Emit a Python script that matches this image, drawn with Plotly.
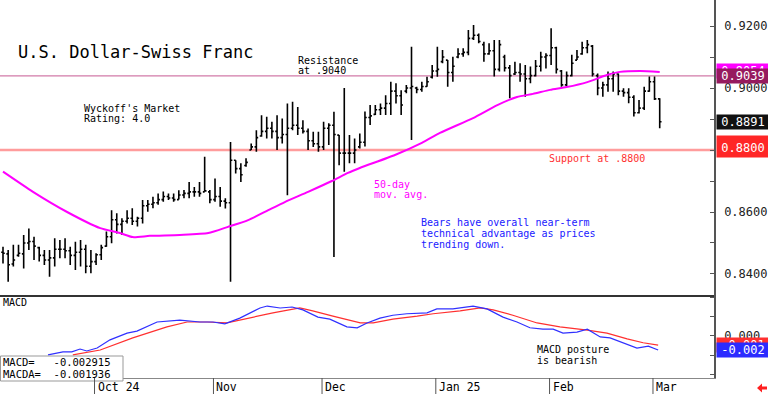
import plotly.graph_objects as go

# ---------------- data ----------------
month_labels = ["Oct 24", "Nov", "Dec", "Jan 25", "Feb", "Mar"]
month_start_bar = [18, 41, 62, 84, 106, 126]

bar_high = [.8488, .8477, .8494, .8494, .8526, .8547, .8520, .8488, .8477, .8477,
            .8515, .8510, .8515, .8488, .8504, .8510, .8494, .8477, .8467, .8494,
            .8537, .8606, .8596, .8580, .8606, .8612, .8585, .8639, .8639, .8649,
            .8660, .8666, .8660, .8660, .8670, .8671, .8697, .8681, .8697, .8778,
            .8671, .8708, .8681, .8644, .8826, .8767, .8757, .8773, .8821, .8864,
            .8912, .8907, .8891, .8912, .8902, .8950, .8956, .8939, .8896, .8869,
            .8859, .8859, .8891, .8886, .8923, .8848, .9000, .8848, .8837, .8853,
            .8924, .8945, .8945, .8950, .8977, .9020, .9015, .8993, .9010, .9133,
            .9004, .9020, .9036, .9074, .9133, .9123, .9090, .9101, .9128, .9128,
            .9187, .9203, .9176, .9149, .9144, .9155, .9155, .9107, .9074, .9085,
            .9080, .9074, .9069, .9090, .9117, .9112, .9193, .9133, .9058, .9053,
            .9107, .9123, .9149, .9155, .9139, .9047, .9020, .9053, .9053, .9047,
            .8999, .8999, .8977, .8961, .9004, .9037, .9037, .8967]
bar_low = [.8434, .8375, .8424, .8456, .8418, .8477, .8445, .8440, .8429, .8391,
           .8424, .8451, .8451, .8429, .8413, .8424, .8402, .8402, .8429, .8445,
           .8488, .8499, .8531, .8526, .8563, .8558, .8553, .8563, .8601, .8612,
           .8623, .8633, .8639, .8633, .8640, .8644, .8644, .8649, .8649, .8665,
           .8628, .8633, .8617, .8611, .8375, .8724, .8697, .8746, .8800, .8794,
           .8843, .8837, .8837, .8800, .8821, .8654, .8864, .8848, .8853, .8800,
           .8810, .8794, .8800, .8816, .8455, .8751, .8730, .8757, .8757, .8805,
           .8811, .8881, .8913, .8913, .8913, .8913, .8950, .8913, .8983, .8832,
           .8983, .8988, .9004, .9031, .9036, .9080, .9004, .9020, .9096, .9101,
           .9106, .9155, .9144, .9085, .9107, .9037, .9053, .9053, .8967, .9042,
           .9020, .8972, .9015, .9037, .9053, .9063, .9074, .9047, .9004, .9004,
           .9037, .9090, .9107, .9112, .9037, .8977, .8972, .8988, .8988, .8977,
           .8972, .8951, .8908, .8918, .8929, .8988, .8961, .8870]
bar_open = [.8470, .8465, .8432, .8460, .8465, .8500, .8505, .8485, .8460, .8445,
            .8452, .8480, .8480, .8475, .8460, .8470, .8480, .8425, .8440, .8462,
            .8490, .8520, .8575, .8560, .8570, .8580, .8570, .8580, .8620, .8625,
            .8630, .8640, .8650, .8645, .8640, .8655, .8660, .8665, .8665, .8665,
            .8665, .8640, .8650, .8635, .8630, .8767, .8740, .8750, .8800, .8810,
            .8845, .8860, .8870, .8860, .8840, .8850, .8870, .8880, .8870, .8860,
            .8830, .8820, .8810, .8870, .8880, .8848, .8790, .8790, .8790, .8810,
            .8825, .8905, .8915, .8930, .8935, .8950, .8990, .8975, .8990, .9000,
            .9000, .8995, .9005, .9035, .9055, .9085, .9090, .9050, .9100, .9110,
            .9115, .9160, .9170, .9140, .9110, .9120, .9060, .9100, .9065, .9045,
            .9050, .9045, .9030, .9040, .9070, .9100, .9105, .9130, .9055, .9010,
            .9040, .9090, .9110, .9130, .9135, .9040, .9000, .9010, .9030, .9045,
            .8990, .8985, .8970, .8920, .8935, .8990, .9020, .8965]
bar_close = [.8467, .8430, .8445, .8467, .8500, .8505, .8490, .8460, .8445, .8452,
             .8480, .8480, .8475, .8460, .8470, .8480, .8425, .8440, .8462, .8485,
             .8520, .8575, .8560, .8570, .8580, .8570, .8580, .8620, .8625, .8630,
             .8640, .8650, .8645, .8640, .8655, .8660, .8665, .8665, .8660, .8668,
             .8640, .8650, .8635, .8630, .8767, .8740, .8720, .8760, .8810, .8840,
             .8860, .8870, .8860, .8840, .8850, .8870, .8880, .8870, .8860, .8830,
             .8820, .8810, .8870, .8880, .8850, .8790, .8790, .8790, .8800, .8825,
             .8905, .8910, .8930, .8935, .8950, .8990, .8975, .8945, .9000, .9005,
             .8995, .9005, .9020, .9055, .9060, .9100, .9050, .9070, .9110, .9115,
             .9160, .9170, .9150, .9110, .9120, .9060, .9140, .9065, .9040, .9050,
             .9045, .9030, .9040, .9070, .9100, .9105, .9130, .9060, .9010, .9040,
             .9080, .9100, .9130, .9140, .9045, .9000, .9010, .9030, .9045, .8990,
             .8985, .8970, .8920, .8935, .8990, .9020, .8965, .8891]

ma_bar = [0, 5.8, 12.4, 18.8, 22.6, 25.1, 28.4, 34.2, 39.7, 43.5, 47.4, 51.3, 54.5,
          59, 63.6, 66.7, 69, 75.8, 81, 84.5, 90.9, 95.6, 99.4, 102.5, 105.8,
          109, 113, 116.8, 119.3, 123.2, 127]
ma_value = [.8730, .8665, .8600, .8548, .8532, .8519, .8523, .8526, .8532, .8552,
            .8574, .8606, .8632, .8665, .8700, .8726, .8742, .8784, .8823, .8855,
            .8903, .8945, .8971, .8981, .8994, .9003, .9019, .9042, .9052,
            .9055, .9052]

macd_bar = [8.7, 11.6, 13.3, 14.9, 16.2, 18.2, 20.7, 24.0, 25.9, 29.8, 34.2, 38.1,
            40.6, 42.9, 45.8, 49.7, 51.1, 53.6, 55.9, 58.0, 60.9, 63.2, 66.5, 68.5,
            70.4, 72.9, 75.4, 78.1, 82.0, 83.9, 87.0, 90.9, 93.6, 96.7, 99.4, 101.9,
            104.4, 106.4, 108.3, 111.0, 113.0, 115.5, 117.4, 119.9, 122.6, 124.8, 126.7]
macd_value = [-.0039, -.0033, -.0033, -.0027, -.0031, -.0025, -.0008, .0006, .0010,
              .0029, .0033, .0029, .0029, .0025, .0037, .0058, .0062, .0058, .0060,
              .0054, .0039, .0035, .0019, .0017, .0027, .0037, .0043, .0046, .0048,
              .0056, .0056, .0062, .0056, .0039, .0029, .0017, .0014, .0014, .0006,
              .0008, .0014, -.0002, -.0004, -.0014, -.0025, -.0021, -.0029]
macda_bar = [13.5, 18.8, 25.1, 31.7, 35.6, 39.5, 43.3, 49.7, 52.2, 57.4, 59.9, 63.8,
             69.1, 71.6, 75.4, 80.1, 83.2, 88.4, 92.3, 94.8, 98.6, 103.3, 107.7,
             113.0, 116.8, 120.7, 123.8, 126.7]
macda_value = [-.0039, -.0029, -.0004, .0019, .0029, .0029, .0027, .0043, .0048,
               .0058, .0052, .0041, .0027, .0027, .0035, .0041, .0046, .0052, .0058,
               .0054, .0043, .0027, .0019, .0012, .0006, -.0006, -.0014, -.0019]

resistance_level = 0.9039
support_level = 0.8800
last_ma_label = "0.9054"
last_res_label = "0.9039"
last_close_label = "0.8891"
support_label = "0.8800"
macd_last = "-0.002915"
macda_last = "-0.001936"

# ---------------- layout helpers ----------------
PW, PH = 714.0, 378.0
MONO = "DejaVu Sans Mono"


def fx(px):
    return px / PW


def fy(py):
    return (PH - py) / PH


bars_x = list(range(len(bar_high)))

fig = go.Figure()
fig.add_trace(go.Ohlc(
    x=bars_x, open=bar_open, high=bar_high, low=bar_low, close=bar_close,
    increasing=dict(line=dict(color="black", width=1.6)),
    decreasing=dict(line=dict(color="black", width=1.6)),
    tickwidth=0.35, showlegend=False, xaxis="x", yaxis="y"))
fig.add_trace(go.Scatter(
    x=ma_bar, y=ma_value, mode="lines", line=dict(color="#FF00FF", width=2, shape="spline", smoothing=0.6),
    showlegend=False, xaxis="x", yaxis="y"))
fig.add_trace(go.Scatter(
    x=macda_bar, y=macda_value, mode="lines", line=dict(color="#FF3030", width=1.2),
    showlegend=False, xaxis="x", yaxis="y2"))
fig.add_trace(go.Scatter(
    x=macd_bar, y=macd_value, mode="lines", line=dict(color="#3030FF", width=1.2),
    showlegend=False, xaxis="x", yaxis="y2"))

split = fy(296)
shapes = [
    dict(type="line", xref="paper", yref="y", x0=0, x1=1, y0=resistance_level, y1=resistance_level,
         line=dict(color="#D27AA8", width=1.3), layer="below"),
    dict(type="line", xref="paper", yref="y", x0=0, x1=1, y0=support_level, y1=support_level,
         line=dict(color="#FF9C9C", width=2.5), layer="below"),
    dict(type="line", xref="paper", yref="paper", x0=0, x1=1, y0=split, y1=split,
         line=dict(color="#333333", width=2)),
    # MACD value box at lower left
    dict(type="rect", xref="paper", yref="paper", x0=fx(0.5), x1=fx(123), y0=fy(381), y1=fy(356),
         fillcolor="white", line=dict(color="#999999", width=1), layer="above"),
]
annotations = []
for lab, b in zip(month_labels, month_start_bar):
    shapes.append(dict(type="line", xref="x", yref="paper", x0=b - 0.3, x1=b - 0.3,
                       y0=fy(394), y1=0, line=dict(color="#555555", width=1)))
    annotations.append(dict(x=b - 0.3, xref="x", y=fy(386.5), yref="paper", text=lab,
                            showarrow=False, xanchor="left", yanchor="middle", xshift=1,
                            font=dict(family=MONO, size=11.5, color="black")))

# red arrow at bottom right
ax0, ay = 757, 388
arrow_path = ("M {} {} L {} {} L {} {} L {} {} L {} {} L {} {} L {} {} Z").format(
    fx(ax0), fy(ay), fx(ax0 + 5), fy(ay - 4.5), fx(ax0 + 5), fy(ay - 1.5),
    fx(ax0 + 10), fy(ay - 1.5), fx(ax0 + 10), fy(ay + 1.5), fx(ax0 + 5), fy(ay + 1.5),
    fx(ax0 + 5), fy(ay + 4.5))
shapes.append(dict(type="path", xref="paper", yref="paper", path=arrow_path,
                   fillcolor="#FF2020", line=dict(width=0)))


def txt(text, x, y, color="black", size=10):
    annotations.append(dict(x=fx(x), y=fy(y), xref="paper", yref="paper", text=text,
                            showarrow=False, xanchor="left", yanchor="middle",
                            font=dict(family=MONO, size=size, color=color)))


txt("U.S. Dollar-Swiss Franc", 16, 52, size=17)
txt("Resistance", 296, 60)
txt("at .9040", 296, 71)
txt("Wyckoff's Market", 82, 108)
txt("Rating: 4.0", 82, 119)
txt("50-day", 372, 184, color="#FF00FF")
txt("mov. avg.", 372, 195, color="#FF00FF")
txt("Bears have overall near-term", 419, 222, color="#2020FF")
txt("technical advantage as prices", 419, 233, color="#2020FF")
txt("trending down.", 419, 244, color="#2020FF")
txt("Support at .8800", 547, 158, color="#FF3030")
txt("MACD posture", 535, 349)
txt("is bearish", 535, 360)
txt("MACD", 1, 302)
txt("MACD=\u00a0\u00a0\u00a0" + macd_last, 1, 362, size=10.5)
txt("MACDA=\u00a0\u00a0" + macda_last, 1, 373.5, size=10.5)


def value_box(text, yval, yref, bg, height=10, valign="middle"):
    annotations.append(dict(
        x=1, xref="paper", xshift=2, xanchor="left", y=yval, yref=yref, yanchor="middle",
        text=text, showarrow=False, bgcolor=bg, width=48, height=height, borderpad=2,
        align="center", valign=valign, font=dict(family=MONO, size=12, color="white")))


value_box(last_ma_label, float(last_ma_label), "y", "#FF00FF")
value_box(last_res_label, 0.9039, "y", "#961A5E")
value_box(last_close_label, float(last_close_label), "y", "#111111")
value_box(support_label, 0.8812, "y", "#FF2626", height=17, valign="bottom")
value_box(macda_last[:6], float(macda_last), "y2", "#FF3030")
value_box(macd_last[:6], float(macd_last), "y2", "#2B2BFF")

price_ticks = [0.84, 0.85, 0.86, 0.87, 0.88, 0.89, 0.90, 0.91, 0.92]
price_text = ["0.8400", "", "0.8600", "", "0.8800", "", "0.9000", "", "0.9200"]

fig.update_layout(
    width=768, height=394,
    margin=dict(l=0, r=54, t=0, b=16, pad=0),
    paper_bgcolor="white", plot_bgcolor="white",
    showlegend=False,
    xaxis=dict(domain=[0, 1], range=[-0.58, 137.5], anchor="y2", showticklabels=False,
               showgrid=False, zeroline=False, ticks="", showline=True, linecolor="#888888",
               linewidth=1, rangeslider=dict(visible=False)),
    yaxis=dict(domain=[split, 1], range=[0.83290, 0.92839], side="right", anchor="x",
               tickvals=price_ticks, ticktext=price_text, ticks="inside", ticklen=4,
               tickcolor="#555555", showline=True, linecolor="#555555", linewidth=1.5,
               showgrid=False, zeroline=False, ticklabelstandoff=6,
               tickfont=dict(family=MONO, size=12, color="#222222")),
    yaxis2=dict(domain=[0, split], range=[-0.0087, 0.00828], side="right", anchor="x",
                tickvals=[-0.008, -0.004, 0, 0.004, 0.008], ticktext=["", "", "0.000", "", ""],
                ticks="inside", ticklen=4, tickcolor="#555555", showline=True,
                linecolor="#555555", linewidth=1.5, showgrid=False, zeroline=False,
                ticklabelstandoff=6, tickfont=dict(family=MONO, size=12, color="#222222")),
    shapes=shapes,
    annotations=annotations,
)

fig.write_html("out.html", config={"displayModeBar": False},
               post_script="document.body.style.margin='0px';document.body.style.padding='0px';")
